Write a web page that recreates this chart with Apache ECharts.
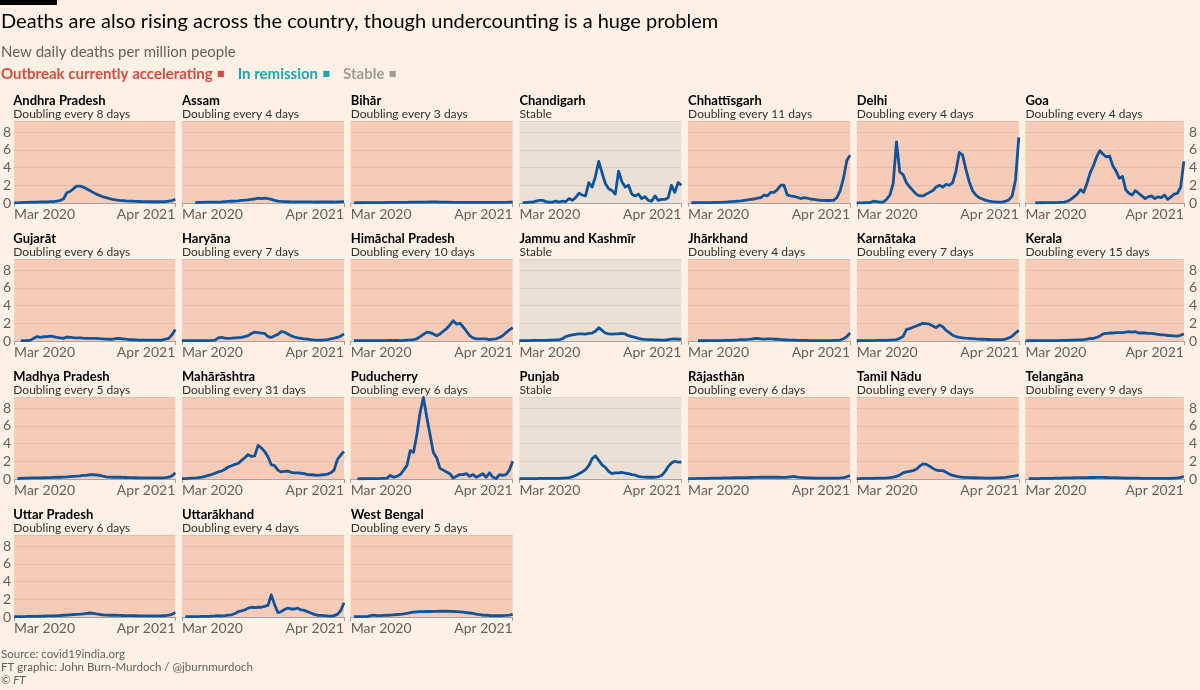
<!DOCTYPE html>
<html>
<head>
<meta charset="utf-8">
<script src="https://cdn.jsdelivr.net/npm/echarts@6/dist/echarts.min.js"></script>
<style>
html,body{margin:0;padding:0;background:#FFF1E5;}
#chart{width:1200px;height:690px;}
</style>
</head>
<body>
<div id="chart"></div>
<script>
// ---- DATA (new daily deaths per million, ~weekly samples Mar 2020 -> Apr 2021) ----
const xTickLabels = ['Mar 2020', 'Apr 2021'];
const states = ['Andhra Pradesh','Assam','Bihār','Chandigarh','Chhattīsgarh','Delhi','Goa',
  'Gujarāt','Haryāna','Himāchal Pradesh','Jammu and Kashmīr','Jhārkhand','Karnātaka','Kerala',
  'Madhya Pradesh','Mahārāshtra','Puducherry','Punjab','Rājasthān','Tamil Nādu','Telangāna',
  'Uttar Pradesh','Uttarākhand','West Bengal'];
const statusLabels = ['Doubling every 8 days','Doubling every 4 days','Doubling every 3 days','Stable',
  'Doubling every 11 days','Doubling every 4 days','Doubling every 4 days',
  'Doubling every 6 days','Doubling every 7 days','Doubling every 10 days','Stable',
  'Doubling every 4 days','Doubling every 7 days','Doubling every 15 days',
  'Doubling every 5 days','Doubling every 31 days','Doubling every 6 days','Stable',
  'Doubling every 6 days','Doubling every 9 days','Doubling every 9 days',
  'Doubling every 6 days','Doubling every 4 days','Doubling every 5 days'];
const statusKind = ['acc','acc','acc','stable','acc','acc','acc',
  'acc','acc','acc','stable','acc','acc','acc',
  'acc','acc','acc','stable','acc','acc','acc',
  'acc','acc','acc'];

const andhraPradesh = [0,0.02,0.05,0.07,0.08,0.1,0.1,0.1,0.12,0.12,0.13,0.15,0.15,
  0.2,0.3,0.45,1.15,1.3,1.6,1.9,1.9,1.8,1.6,1.4,1.2,
  1.0,0.85,0.7,0.6,0.5,0.42,0.35,0.3,0.27,0.24,0.22,0.2,
  0.18,0.17,0.16,0.15,0.15,0.14,0.14,0.14,0.15,0.16,0.2,0.28,0.4];
const assam = [null,null,null,null,0.05,0.08,0.08,0.1,0.1,0.1,0.1,0.1,0.12,
  0.15,0.18,0.2,0.22,0.25,0.3,0.32,0.35,0.4,0.45,0.55,0.5,0.55,0.5,0.4,0.3,0.22,0.18,
  0.15,0.14,0.13,0.12,0.12,0.12,0.12,0.12,0.12,0.11,0.11,0.11,0.11,0.11,0.11,0.11,0.12,0.12,0.15];
const bihar = [null,0.02,0.03,0.03,0.04,0.04,0.05,0.05,0.05,0.05,0.05,
  0.06,0.06,0.06,0.07,0.07,0.08,0.08,0.09,0.1,0.1,
  0.1,0.1,0.11,0.12,0.12,0.12,0.11,0.1,0.1,0.09,
  0.08,0.08,0.08,0.07,0.07,0.07,0.06,0.06,0.06,0.06,
  0.06,0.06,0.06,0.06,0.06,0.07,0.08,0.1,0.12];
const chandigarh = [null,0.05,0.05,0.1,0.1,0.2,0.3,0.3,0.15,0.1,0.1,
  0.2,0.1,0.2,0.15,0.5,0.3,0.6,1.1,0.9,0.8,
  2.3,1.8,3.0,4.7,3.4,2.2,1.6,1.4,1.0,3.6,
  2.4,1.8,2.0,1.0,0.8,1.0,0.5,0.7,0.3,0.2,
  0.8,0.3,0.4,0.4,0.6,2.0,1.2,2.3,2.0];
const chhattisgarh = [null,0.03,0.03,0.04,0.05,0.05,0.05,0.05,0.06,0.07,0.08,0.1,0.12,
  0.15,0.18,0.22,0.25,0.3,0.35,0.4,0.45,0.55,0.6,
  0.9,0.8,1.2,1.2,1.5,2.0,2.0,0.9,0.8,0.75,
  0.65,0.5,0.6,0.55,0.45,0.4,0.35,0.3,0.3,0.28,
  0.28,0.3,0.6,1.4,2.8,4.8,5.4];
const delhi = [0,0.02,0.03,0.05,0.05,0.2,0.15,0.1,0.1,0.4,
  0.9,2.2,6.9,3.5,3.2,2.3,1.8,1.4,1.0,0.8,
  0.8,1.0,1.2,1.4,1.8,2.0,1.8,2.1,2.0,2.3,
  3.6,5.7,5.4,3.8,2.4,1.4,0.9,0.6,0.45,0.3,
  0.22,0.15,0.12,0.1,0.1,0.2,0.35,0.8,2.6,7.4];
const goa = [null,null,null,0.02,0.03,0.03,0.04,0.05,0.05,0.05,0.06,0.08,
  0.1,0.2,0.4,0.7,1.0,1.5,1.2,2.2,3.4,4.2,
  5.2,5.9,5.5,5.2,5.3,4.2,3.6,2.8,3.0,1.5,
  1.1,0.9,1.4,1.1,0.8,0.5,0.7,0.8,0.5,0.7,
  0.6,0.9,0.4,0.7,1.0,1.1,1.8,4.7];
const gujarat = [null,null,0.05,0.05,0.05,0.1,0.3,0.5,0.42,0.48,0.5,0.55,
  0.5,0.42,0.35,0.3,0.45,0.42,0.38,0.35,0.35,0.32,
  0.3,0.3,0.3,0.3,0.27,0.25,0.22,0.2,0.2,0.28,
  0.3,0.25,0.2,0.16,0.14,0.12,0.1,0.1,0.1,0.1,
  0.1,0.1,0.1,0.12,0.2,0.3,0.7,1.3];
const haryana = [0.03,0.04,0.05,0.05,0.05,0.05,0.05,0.05,0.05,0.06,
  0.1,0.35,0.4,0.32,0.3,0.32,0.35,0.38,0.4,0.5,
  0.6,0.85,1.0,0.95,0.9,0.85,0.5,0.4,0.6,0.75,
  1.05,1.0,0.8,0.6,0.45,0.35,0.3,0.25,0.2,0.15,
  0.12,0.1,0.1,0.12,0.15,0.25,0.32,0.4,0.55,0.8];
const himachalPradesh = [null,0.03,0.04,0.05,0.05,0.05,0.05,0.05,0.05,0.05,0.04,0.05,0.06,0.05,0.06,0.05,0.08,0.1,
  0.12,0.15,0.25,0.5,0.75,1.0,0.95,0.8,0.6,0.8,
  1.1,1.4,1.8,2.3,1.9,2.0,1.6,1.1,0.6,0.35,
  0.25,0.25,0.25,0.25,0.15,0.2,0.25,0.4,0.6,0.95,1.25,1.5];
const jammuKashmir = [0.03,0.05,0.05,0.05,0.06,0.06,0.07,0.08,0.08,0.1,0.1,0.12,
  0.12,0.25,0.5,0.6,0.7,0.75,0.8,0.8,0.78,0.85,
  0.9,1.1,1.5,1.2,0.9,0.8,0.78,0.8,0.82,0.85,
  0.8,0.6,0.5,0.4,0.3,0.22,0.18,0.15,0.15,0.13,
  0.12,0.1,0.1,0.15,0.2,0.25,0.2,0.22];
const jharkhand = [null,null,null,0.03,0.03,0.03,0.04,0.04,0.05,0.05,0.05,0.06,0.07,0.08,0.1,
  0.12,0.15,0.15,0.18,0.22,0.28,0.3,0.25,0.22,0.24,
  0.24,0.2,0.2,0.16,0.14,0.12,0.1,0.1,0.08,0.07,
  0.06,0.06,0.05,0.05,0.05,0.05,0.05,0.05,0.05,0.06,
  0.07,0.1,0.25,0.5,0.9];
const karnataka = [0.03,0.04,0.05,0.05,0.05,0.05,0.06,0.06,0.07,0.08,0.1,0.12,
  0.15,0.3,0.5,1.3,1.4,1.55,1.7,1.85,2.0,1.95,
  1.9,1.7,1.5,1.8,1.6,1.2,0.95,0.65,0.5,0.42,
  0.36,0.32,0.3,0.27,0.24,0.22,0.2,0.18,0.17,0.16,
  0.15,0.15,0.16,0.22,0.35,0.55,0.9,1.2];
const kerala = [0.02,0.03,0.03,0.04,0.04,0.05,0.05,0.05,0.05,0.05,0.05,0.06,0.07,0.08,0.1,
  0.1,0.12,0.13,0.15,0.2,0.3,0.28,0.4,0.55,0.8,
  0.85,0.9,0.9,0.95,0.95,0.95,1.0,1.05,1.0,1.05,
  0.9,0.9,0.9,0.85,0.85,0.8,0.75,0.7,0.68,0.62,
  0.6,0.58,0.55,0.65,0.8];
const madhyaPradesh = [null,0.05,0.08,0.1,0.1,0.12,0.12,0.13,0.13,0.14,0.15,
  0.16,0.18,0.2,0.2,0.22,0.24,0.27,0.3,0.32,0.35,
  0.4,0.42,0.48,0.5,0.45,0.4,0.32,0.25,0.22,0.2,
  0.2,0.2,0.18,0.17,0.16,0.15,0.14,0.13,0.13,0.12,
  0.12,0.12,0.12,0.12,0.13,0.15,0.2,0.35,0.7];
const maharashtra = [0.03,0.05,0.08,0.1,0.12,0.15,0.2,0.3,0.4,0.5,
  0.65,0.8,0.9,1.1,1.35,1.5,1.65,1.75,2.1,2.4,
  2.75,2.55,2.6,3.8,3.5,3.1,2.5,1.6,1.5,1.0,
  0.8,0.85,0.9,0.75,0.7,0.7,0.65,0.6,0.5,0.48,
  0.45,0.42,0.45,0.5,0.55,0.7,1.0,2.2,2.7,3.1];
const puducherry = [null,null,0.02,0.03,0.03,0.04,0.05,0.05,0.05,0.06,0.08,
  0.1,0.4,0.2,0.3,0.5,1.0,1.5,3.2,3.0,5.0,
  7.5,9.2,7.0,5.0,3.0,2.4,1.2,1.0,0.8,0.6,
  0.1,0.3,0.5,0.5,0.6,0.3,0.5,0.2,0.4,0.6,
  0.2,0.7,0.2,0.05,0.5,0.4,0.5,1.0,2.0];
const punjab = [0.03,0.04,0.05,0.05,0.05,0.05,0.06,0.06,0.07,0.07,0.08,0.08,0.08,0.1,0.12,
  0.15,0.25,0.4,0.6,0.8,1.05,1.5,2.3,2.6,2.1,
  1.6,1.3,0.85,0.6,0.7,0.7,0.75,0.65,0.6,0.5,
  0.45,0.3,0.25,0.22,0.2,0.2,0.2,0.25,0.4,0.8,
  1.4,1.8,2.0,1.9,1.9];
const rajasthan = [0.03,0.05,0.05,0.06,0.07,0.08,0.08,0.1,0.1,0.1,0.1,
  0.12,0.12,0.12,0.14,0.15,0.15,0.15,0.16,0.17,0.18,
  0.18,0.2,0.2,0.2,0.2,0.2,0.2,0.18,0.18,0.2,
  0.25,0.3,0.22,0.18,0.15,0.12,0.12,0.1,0.1,0.1,
  0.1,0.1,0.1,0.1,0.1,0.12,0.15,0.25,0.4];
const tamilNadu = [0.05,0.05,0.06,0.07,0.08,0.08,0.1,0.1,0.1,
  0.12,0.15,0.2,0.3,0.45,0.7,0.8,0.85,0.95,1.1,
  1.45,1.7,1.65,1.45,1.2,1.0,0.95,0.95,0.75,0.55,
  0.4,0.32,0.25,0.2,0.18,0.16,0.15,0.14,0.12,0.12,
  0.1,0.1,0.1,0.12,0.12,0.15,0.18,0.25,0.3,0.35,0.45];
const telangana = [null,0.03,0.04,0.05,0.05,0.06,0.07,0.08,0.08,0.1,0.1,
  0.1,0.12,0.12,0.13,0.14,0.15,0.15,0.16,0.16,0.17,
  0.17,0.18,0.18,0.18,0.17,0.16,0.15,0.14,0.13,0.12,
  0.11,0.1,0.1,0.09,0.09,0.08,0.08,0.08,0.07,0.07,
  0.07,0.07,0.07,0.07,0.08,0.1,0.12,0.18,0.28];
const uttarPradesh = [0.03,0.04,0.05,0.05,0.06,0.07,0.08,0.08,0.1,0.1,0.12,
  0.12,0.13,0.15,0.17,0.2,0.22,0.25,0.28,0.3,0.32,
  0.35,0.4,0.45,0.42,0.35,0.3,0.25,0.22,0.2,0.2,0.2,0.18,
  0.17,0.16,0.15,0.15,0.14,0.13,0.12,0.12,0.12,0.12,0.12,0.13,
  0.14,0.16,0.2,0.3,0.5];
const uttarakhand = [null,0.03,0.04,0.05,0.05,0.05,0.06,0.07,0.08,
  0.1,0.12,0.15,0.13,0.15,0.2,0.25,0.4,0.6,0.7,
  0.8,1.0,1.1,1.05,1.1,1.1,1.2,1.3,2.5,1.4,
  0.5,0.6,0.85,1.0,0.9,0.9,1.0,0.8,0.75,0.6,
  0.45,0.3,0.2,0.18,0.15,0.12,0.1,0.15,0.3,0.7,1.6];
const westBengal = [null,0.03,0.05,0.05,0.05,0.05,
  0.15,0.2,0.15,0.15,0.18,0.2,0.22,0.25,0.28,0.3,
  0.35,0.42,0.5,0.55,0.58,0.6,0.6,0.62,0.62,0.63,
  0.63,0.65,0.65,0.65,0.63,0.62,0.6,0.58,0.55,0.5,
  0.45,0.4,0.33,0.28,0.22,0.2,0.17,0.15,0.14,0.14,
  0.15,0.18,0.22,0.3];

const seriesValues = [andhraPradesh, assam, bihar, chandigarh, chhattisgarh, delhi, goa,
  gujarat, haryana, himachalPradesh, jammuKashmir, jharkhand, karnataka, kerala,
  madhyaPradesh, maharashtra, puducherry, punjab, rajasthan, tamilNadu, telangana,
  uttarPradesh, uttarakhand, westBengal];
const yTicks = [0, 2, 4, 6, 8];

// ---- LAYOUT / STYLE ----
const FONT = 'Lato, "Noto Sans", sans-serif';
const BG = '#FFF1E5';
const ACC_BG = '#F6CBB8';
const STABLE_BG = '#EAE0D6';
const LINE = '#0F5499';
const GREY = '#66605C';
const COLS = 7, X0 = 13.3, DX = 168.7, W = 162, Y0 = 121, DY = 138, H = 82;
const YMAX = 9.25;

const chart = echarts.init(document.getElementById('chart'), null, {renderer: 'canvas'});

const grids = [], xAxes = [], yAxes = [], series = [], titles = [];

titles.push({text: 'Deaths are also rising across the country, though undercounting is a huge problem',
  left: 1, top: 11, padding: 0,
  textStyle: {fontFamily: FONT, fontSize: 20, fontWeight: 'normal', color: '#000', lineHeight: 22}});
titles.push({text: 'New daily deaths per million people', left: 1, top: 43, padding: 0,
  textStyle: {fontFamily: FONT, fontSize: 15, fontWeight: 'normal', color: GREY, lineHeight: 18}});
titles.push({text: '{r|Outbreak currently accelerating} {rs|■}   {t|In remission} {ts|■}   {g|Stable} {gs|■}',
  left: 1, top: 66, padding: 0,
  textStyle: {fontFamily: FONT, lineHeight: 16,
    rich: {
      r: {color: '#DB4A3E', fontSize: 15, fontWeight: 'bold', fontFamily: FONT},
      rs: {color: '#DB4A3E', fontSize: 8, fontFamily: 'DejaVu Sans'},
      t: {color: '#1BA6B0', fontSize: 15, fontWeight: 'bold', fontFamily: FONT},
      ts: {color: '#1BA6B0', fontSize: 8, fontFamily: 'DejaVu Sans'},
      g: {color: '#A29C97', fontSize: 15, fontWeight: 'bold', fontFamily: FONT},
      gs: {color: '#A29C97', fontSize: 8, fontFamily: 'DejaVu Sans'}
    }}});
titles.push({text: 'Source: covid19india.org\nFT graphic: John Burn-Murdoch / @jburnmurdoch\n{i|© FT}',
  left: 1, top: 648, padding: 0,
  textStyle: {fontFamily: FONT, fontSize: 11.5, fontWeight: 'normal', color: GREY, lineHeight: 13,
    rich: {i: {fontStyle: 'italic', fontSize: 11.5, color: GREY, fontFamily: FONT}}}});

states.forEach((name, k) => {
  const r = Math.floor(k / COLS), c = k % COLS;
  const left = X0 + DX * c, top = Y0 + DY * r;
  const stable = statusKind[k] === 'stable';
  grids.push({left: left, top: top, width: W, height: H, show: true,
    backgroundColor: stable ? STABLE_BG : ACC_BG, borderWidth: 0, containLabel: false});
  titles.push({text: name, left: left, top: top - 28, padding: 0,
    textStyle: {fontFamily: FONT, fontSize: 13, fontWeight: 'bold', color: '#000', lineHeight: 15}});
  titles.push({text: statusLabels[k], left: left, top: top - 14, padding: 0,
    textStyle: {fontFamily: FONT, fontSize: 12, fontWeight: 'normal', color: '#33302E', lineHeight: 14}});
  const vals = seriesValues[k];
  const n = vals.length;
  xAxes.push({gridIndex: k, type: 'value', min: 0, max: n - 1, interval: n - 1,
    axisLine: {show: true, lineStyle: {color: '#A8A29D', width: 1}},
    axisTick: {show: true, length: 4, lineStyle: {color: '#A8A29D'}},
    splitLine: {show: false},
    axisLabel: {show: true, margin: 4, fontFamily: FONT, fontSize: 14, color: GREY,
      alignMinLabel: 'left', alignMaxLabel: 'right',
      formatter: v => (v === 0 ? xTickLabels[0] : xTickLabels[1])}});
  const showY = (c === 0 || c === COLS - 1);
  yAxes.push({gridIndex: k, type: 'value', min: 0, max: YMAX, interval: 2,
    position: c === COLS - 1 ? 'right' : 'left',
    axisLine: {show: false}, axisTick: {show: false},
    splitLine: {show: true, lineStyle: {color: 'rgba(120,60,30,0.10)', width: 1}},
    axisLabel: {show: showY, margin: c === COLS - 1 ? 5 : 3, fontFamily: FONT, fontSize: 14, color: GREY,
      formatter: v => (yTicks.indexOf(v) >= 0 ? String(v) : '')}});
  series.push({type: 'line', xAxisIndex: k, yAxisIndex: k, showSymbol: false, symbol: 'none',
    lineStyle: {color: LINE, width: 2.8, join: 'round'}, connectNulls: false, silent: true,
    data: vals.map((v, i) => [i, v])});
});

chart.setOption({
  backgroundColor: BG,
  animation: false,
  title: titles,
  grid: grids,
  xAxis: xAxes,
  yAxis: yAxes,
  series: series,
  graphic: [{type: 'rect', left: 0, top: 0, shape: {width: 57, height: 5}, style: {fill: '#000'}}]
});
</script>
</body>
</html>
